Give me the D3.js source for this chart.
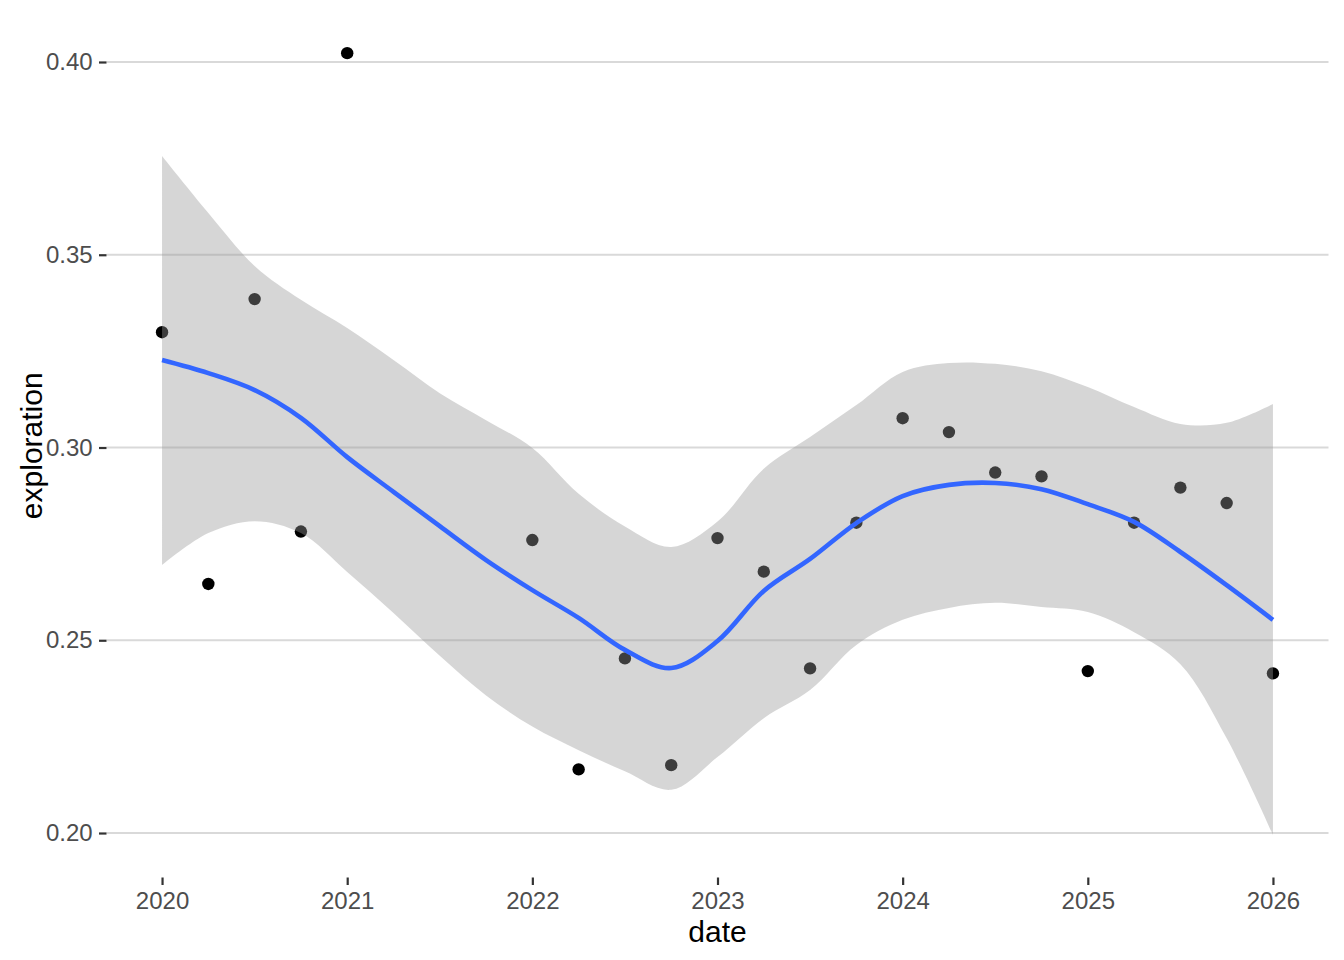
<!DOCTYPE html>
<html>
<head>
<meta charset="utf-8">
<script src="https://cdn.jsdelivr.net/npm/d3@7"></script>
<style>
  html, body { margin: 0; padding: 0; background: #ffffff; }
  svg { display: block; }
  text { font-family: "Liberation Sans", Arial, Helvetica, sans-serif; }
</style>
</head>
<body>
<svg id="chart" width="1344" height="960"></svg>
<script>
// ---- data ----
const pointYears = [2020, 2020.25, 2020.5, 2020.75, 2021,
  2022, 2022.25, 2022.5, 2022.75, 2023, 2023.25, 2023.5, 2023.75,
  2024, 2024.25, 2024.5, 2024.75, 2025, 2025.25, 2025.5, 2025.75, 2026];
const pointValues = [0.3299, 0.2646, 0.3385, 0.2782, 0.4023,
  0.2760, 0.2165, 0.2453, 0.2176, 0.2765, 0.2678, 0.2427, 0.2805,
  0.3076, 0.3040, 0.2935, 0.2925, 0.2420, 0.2805, 0.2896, 0.2856, 0.2414];

const smoothYears = [2020, 2020.25, 2020.5, 2020.75, 2021, 2021.25, 2021.5, 2021.75,
  2022, 2022.25, 2022.5, 2022.75, 2023, 2023.25, 2023.5, 2023.75,
  2024, 2024.25, 2024.5, 2024.75, 2025, 2025.25, 2025.5, 2025.75, 2026];
const fitValues = [0.3227, 0.3193, 0.3149, 0.3077, 0.2975, 0.2885, 0.2796, 0.2708,
  0.2630, 0.2558, 0.2475, 0.2428, 0.2498, 0.2628, 0.2711, 0.2804,
  0.2874, 0.2903, 0.2908, 0.2892, 0.2853, 0.2807, 0.2729, 0.2643, 0.2553];
const upperValues = [0.3756, 0.3608, 0.3471, 0.3383, 0.3310, 0.3227, 0.3141, 0.3071,
  0.2999, 0.2880, 0.2795, 0.2742, 0.2808, 0.2945, 0.3027, 0.3110,
  0.3196, 0.3219, 0.3217, 0.3198, 0.3157, 0.3105, 0.3061, 0.3064, 0.3113];
const lowerValues = [0.2695, 0.2778, 0.2809, 0.2778, 0.2677, 0.2571, 0.2460, 0.2357,
  0.2276, 0.2215, 0.2160, 0.2112, 0.2197, 0.2298, 0.2371, 0.2488,
  0.2553, 0.2584, 0.2597, 0.2586, 0.2573, 0.2521, 0.2438, 0.2246, 0.1995];

const xTicks = [2020, 2021, 2022, 2023, 2024, 2025, 2026];
const yTicks = [0.20, 0.25, 0.30, 0.35, 0.40];
const xTitle = "date";
const yTitle = "exploration";

// ---- layout ----
const svg = d3.select("#chart");
const panel = { left: 106.5, right: 1328.5, top: 14, bottom: 877.5 };

const x = d3.scaleLinear().domain([2019.7, 2026.3]).range([panel.left, panel.right]);
const y = d3.scaleLinear().domain([0.18846, 0.41245]).range([panel.bottom, panel.top]);

// gridlines (major y only)
svg.append("g").selectAll("line").data(yTicks).join("line")
  .attr("x1", panel.left).attr("x2", panel.right)
  .attr("y1", d => y(d)).attr("y2", d => y(d))
  .attr("stroke", "#d9d9d9").attr("stroke-width", 2.2);

// points
const pts = pointYears.map((t, i) => ({ t, v: pointValues[i] }));
svg.append("g").selectAll("circle").data(pts).join("circle")
  .attr("cx", d => x(d.t)).attr("cy", d => y(d.v)).attr("r", 6.2)
  .attr("fill", "#000000");

// ribbon
const smooth = smoothYears.map((t, i) => ({ t, fit: fitValues[i], lo: lowerValues[i], hi: upperValues[i] }));
const area = d3.area()
  .x(d => x(d.t)).y0(d => y(d.lo)).y1(d => y(d.hi))
  .curve(d3.curveCatmullRom.alpha(0.5));
svg.append("path").datum(smooth).attr("d", area)
  .attr("fill", "#999999").attr("fill-opacity", 0.4);

// fitted line
const line = d3.line().x(d => x(d.t)).y(d => y(d.fit)).curve(d3.curveCatmullRom.alpha(0.5));
svg.append("path").datum(smooth).attr("d", line)
  .attr("fill", "none").attr("stroke", "#3366FF").attr("stroke-width", 4.6);

// axes
const xAxis = svg.append("g").attr("transform", `translate(0,${panel.bottom})`)
  .call(d3.axisBottom(x).tickValues(xTicks).tickFormat(d3.format("d")).tickSize(7.5).tickPadding(6.5));
const yAxis = svg.append("g").attr("transform", `translate(${panel.left},0)`)
  .call(d3.axisLeft(y).tickValues(yTicks).tickFormat(d3.format(".2f")).tickSize(7.5).tickPadding(6.3));

[xAxis, yAxis].forEach(g => {
  g.select(".domain").remove();
  g.selectAll(".tick line").attr("stroke", "#333333").attr("stroke-width", 2.2);
  g.selectAll(".tick text")
    .attr("fill", "#4d4d4d")
    .style("font-size", "24px")
    .style("font-family", "'Liberation Sans', Arial, Helvetica, sans-serif");
});

// titles
svg.append("text")
  .attr("x", (panel.left + panel.right) / 2).attr("y", 942)
  .attr("text-anchor", "middle")
  .style("font-size", "30px")
  .attr("fill", "#000000").text(xTitle);

svg.append("text")
  .attr("transform", `translate(42,${(panel.top + panel.bottom) / 2}) rotate(-90)`)
  .attr("text-anchor", "middle")
  .style("font-size", "30px")
  .attr("fill", "#000000").text(yTitle);
</script>
</body>
</html>
